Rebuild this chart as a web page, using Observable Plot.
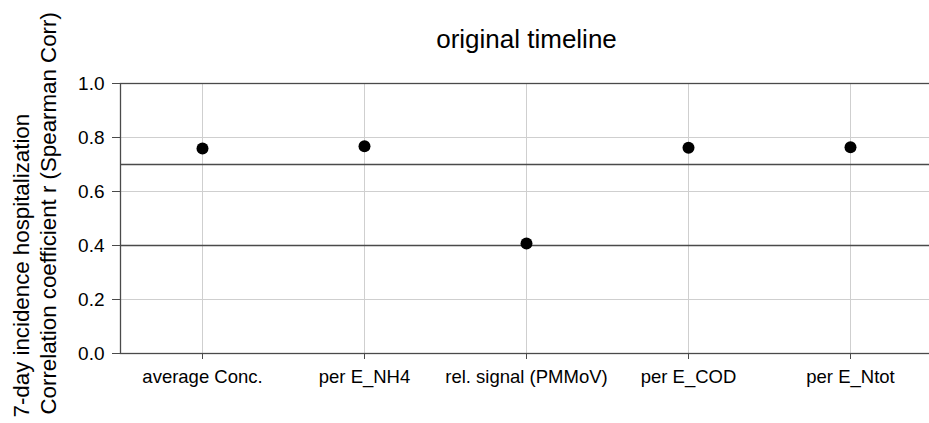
<!DOCTYPE html>
<html>
<head>
<meta charset="utf-8">
<script src="https://cdn.jsdelivr.net/npm/d3@7"></script>
<script src="https://cdn.jsdelivr.net/npm/@observablehq/plot@0.6"></script>
<style>
  html, body { margin: 0; padding: 0; background: #fff; }
  #chart svg { display: block; }
</style>
</head>
<body>
<div id="chart"></div>
<script>
// Normalisation variants compared against the 7-day hospitalization incidence
const categories = ["average Conc.", "per E_NH4", "rel. signal (PMMoV)", "per E_COD", "per E_Ntot"];
// Spearman correlation coefficient r for each variant
const rValues = [0.759, 0.768, 0.407, 0.762, 0.764];
// Horizontal reference levels
const thresholds = [0.4, 0.7];
const yTicks = [0, 0.2, 0.4, 0.6, 0.8, 1.0];
const title = "original timeline";
const yLabel1 = "7-day incidence hospitalization";
const yLabel2 = "Correlation coefficient r (Spearman Corr)";

const data = categories.map((c, i) => ({category: c, r: rValues[i]}));

const frameColor = "#4a4a4a";
const gridColor = "#cfcfcf";

const chart = Plot.plot({
  width: 929,
  height: 423,
  marginLeft: 120,
  marginRight: -3,
  marginTop: 83,
  marginBottom: 70,
  style: {fontFamily: "'Liberation Sans', Arial, sans-serif", background: "#fff", color: "#000"},
  x: {type: "point", domain: categories, padding: 0.5, label: null},
  y: {domain: [0, 1], label: null},
  marks: [
    // light grid
    Plot.gridX(categories, {stroke: gridColor, strokeOpacity: 1, strokeWidth: 1}),
    Plot.gridY(yTicks, {stroke: gridColor, strokeOpacity: 1, strokeWidth: 1}),
    // reference levels
    Plot.ruleY(thresholds, {stroke: frameColor, strokeWidth: 1.3}),
    // plot frame (left, top, bottom)
    Plot.frame({stroke: frameColor, strokeWidth: 1.3}),
    Plot.axisY(yTicks, {
      tickFormat: d3.format(".1f"),
      tickSize: 8,
      tickPadding: 8,
      fontSize: 19,
      stroke: frameColor,
      fill: "#000",
      label: null
    }),
    Plot.axisX({
      tickSize: 6,
      tickPadding: 10,
      fontSize: 18.5,
      stroke: frameColor,
      fill: "#000",
      label: null
    }),
    Plot.dot(data, {x: "category", y: "r", r: 6, fill: "#000", stroke: "none"}),
    // title
    Plot.text([title], {frameAnchor: "top", lineAnchor: "bottom", dy: -36, fontSize: 26, fill: "#000"}),
    // two-line y axis title
    Plot.text([yLabel1], {frameAnchor: "bottom-left", rotate: -90, textAnchor: "start", lineAnchor: "bottom", dx: -92, dy: 64, fontSize: 22.3, fill: "#000"}),
    Plot.text([yLabel2], {frameAnchor: "bottom-left", rotate: -90, textAnchor: "start", lineAnchor: "bottom", dx: -65, dy: 61, fontSize: 22.3, fill: "#000"})
  ]
});

document.getElementById("chart").appendChild(chart);
</script>
</body>
</html>
